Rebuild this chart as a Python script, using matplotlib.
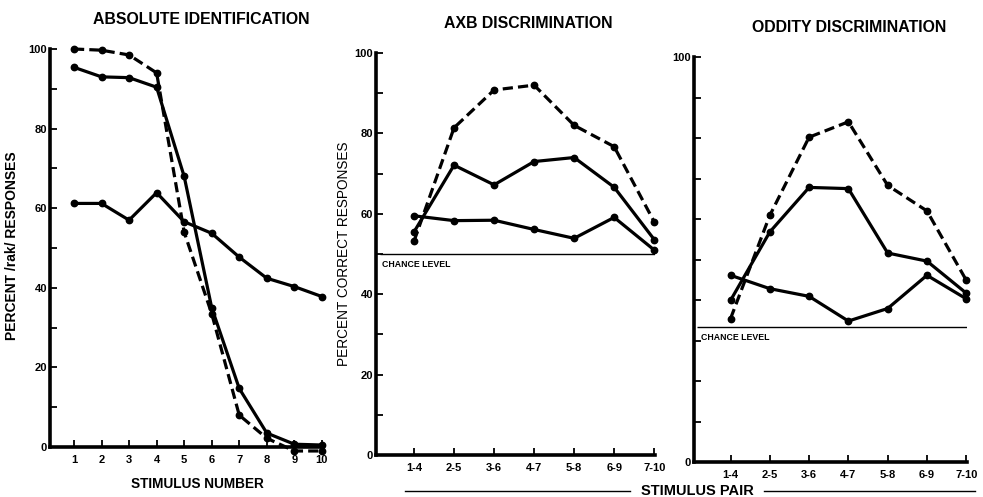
import matplotlib
matplotlib.use('Agg')
import matplotlib.pyplot as plt
from matplotlib.lines import Line2D
from matplotlib import font_manager

# ---------------- data ----------------
stim_numbers = [1, 2, 3, 4, 5, 6, 7, 8, 9, 10]
ident_dashed = [100, 99.7, 98.5, 94, 54, 33.5, 8, 2.2, -1, -1]
ident_solid_upper = [95.4, 93, 92.8, 90.4, 68, 35, 14.7, 3.5, 0.7, 0.5]
ident_solid_lower = [61.2, 61.2, 57, 63.9, 56.6, 53.7, 47.7, 42.4, 40.3, 37.8]

pairs = ['1-4', '2-5', '3-6', '4-7', '5-8', '6-9', '7-10']
axb_dashed = [53.2, 81.4, 90.8, 92, 82, 76.7, 58]
axb_solid_upper = [55.5, 72.1, 67.2, 73, 74, 66.6, 53.6]
axb_solid_lower = [59.5, 58.3, 58.4, 56.1, 53.9, 59.1, 51]
axb_chance = 50

odd_dashed = [35.4, 60.9, 80.2, 84, 68.3, 62, 44.9]
odd_solid_upper = [39.9, 56.8, 67.8, 67.5, 51.6, 49.6, 41.7]
odd_solid_lower = [46.1, 42.8, 40.9, 34.8, 37.9, 46.1, 40.3]
odd_chance = 33.3

titles = ['ABSOLUTE IDENTIFICATION', 'AXB DISCRIMINATION', 'ODDITY DISCRIMINATION']

# ---------------- fonts ----------------
names = {f.name for f in font_manager.fontManager.ttflist}
base = 'Liberation Sans' if 'Liberation Sans' in names else 'DejaVu Sans'
plt.rcParams['font.family'] = [base, 'DejaVu Sans']

W, H = 983, 497
fig = plt.figure(figsize=(W / 100, H / 100), dpi=100)


def frac_axes(l, r, t, b):
    return [l / W, 1 - b / H, (r - l) / W, (b - t) / H]


ax1 = fig.add_axes(frac_axes(50, 323, 49, 447))
ax2 = fig.add_axes(frac_axes(376, 655, 53, 455))
ax3 = fig.add_axes(frac_axes(694, 967, 57, 462))

LW = 2.3
MS = 4.6
DASH = (3.2, 1.6)


def style(ax):
    for s in ['top', 'right']:
        ax.spines[s].set_visible(False)
    for s in ['left', 'bottom']:
        ax.spines[s].set_linewidth(2.6)
        ax.spines[s].set_color('black')
    ax.set_ylim(0, 100)
    ax.tick_params(axis='both', which='both', direction='in', length=5, width=1.3,
                   colors='black')
    ax.tick_params(axis='y', labelsize=8, pad=2)
    ax.tick_params(axis='x', labelsize=8, pad=6)
    for lab in ax.get_xticklabels() + ax.get_yticklabels():
        lab.set_fontweight('bold')


def series(ax, x, y, dashed=False):
    kw = dict(color='black', lw=LW, marker='o', ms=MS, clip_on=False, zorder=3)
    if dashed:
        ax.plot(x, y, linestyle=(0, DASH), **kw)
    else:
        ax.plot(x, y, **kw)


# ---- panel 1 ----
series(ax1, stim_numbers, ident_solid_lower)
series(ax1, stim_numbers, ident_solid_upper)
series(ax1, stim_numbers, ident_dashed, dashed=True)
ax1.set_xlim(0.13, 10.04)
ax1.set_xticks(stim_numbers)
ax1.set_yticks([0, 20, 40, 60, 80, 100])
ax1.set_yticks([10, 30, 50, 70, 90], minor=True)
style(ax1)
ax1.set_ylabel('PERCENT /rak/ RESPONSES', fontsize=10, fontweight='bold')
ax1.yaxis.set_label_coords(-0.112, 0.505)
ax1.set_xlabel('STIMULUS NUMBER', fontsize=9.8, fontweight='bold')
ax1.xaxis.set_label_coords(0.54, -0.075)

# ---- panel 2 ----
xp = list(range(len(pairs)))
series(ax2, xp, axb_solid_lower)
series(ax2, xp, axb_solid_upper)
series(ax2, xp, axb_dashed, dashed=True)
ax2.set_xlim(-0.95, len(pairs) - 1 + 0.02)
ax2.hlines(axb_chance, -0.85, len(pairs) - 1 + 0.02, color='black', lw=1.0)
ax2.text(-0.8, axb_chance - 2.6, 'CHANCE LEVEL', fontsize=6.3, fontweight='bold',
         va='center', ha='left')
ax2.set_xticks(xp)
ax2.set_xticklabels(pairs)
ax2.set_yticks([0, 20, 40, 60, 80, 100])
ax2.set_yticks([10, 30, 50, 70, 90], minor=True)
style(ax2)
ax2.set_ylabel('PERCENT CORRECT RESPONSES', fontsize=9.8)
ax2.yaxis.set_label_coords(-0.088, 0.50)

# ---- panel 3 ----
series(ax3, xp, odd_solid_lower)
series(ax3, xp, odd_solid_upper)
series(ax3, xp, odd_dashed, dashed=True)
ax3.set_xlim(-0.93, len(pairs) - 1 + 0.02)
ax3.hlines(odd_chance, -0.85, len(pairs) - 1 + 0.02, color='black', lw=1.0)
ax3.text(-0.75, odd_chance - 2.6, 'CHANCE LEVEL', fontsize=6.3, fontweight='bold',
         va='center', ha='left')
ax3.set_xticks(xp)
ax3.set_xticklabels(pairs)
ax3.set_yticks([0, 100])
ax3.set_yticks([10, 20, 30, 40, 50, 60, 70, 80, 90], minor=True)
style(ax3)

# ---- titles ----
title_pos = [(201, 20), (528, 23), (849, 27)]
for t, (x, y) in zip(titles, title_pos):
    fig.text(x / W, 1 - y / H, t, ha='center', va='center', fontsize=11.4,
             fontweight='bold')

# ---- STIMULUS PAIR annotation ----
yl = 1 - 491 / H
fig.text(697 / W, yl, 'STIMULUS PAIR', ha='center', va='center',
         fontsize=10.5, fontweight='bold')
fig.add_artist(Line2D([405 / W, 630 / W], [yl, yl], color='black', lw=1.0))
fig.add_artist(Line2D([764 / W, 975 / W], [yl, yl], color='black', lw=1.0))

fig.savefig('out.png', dpi=100)
